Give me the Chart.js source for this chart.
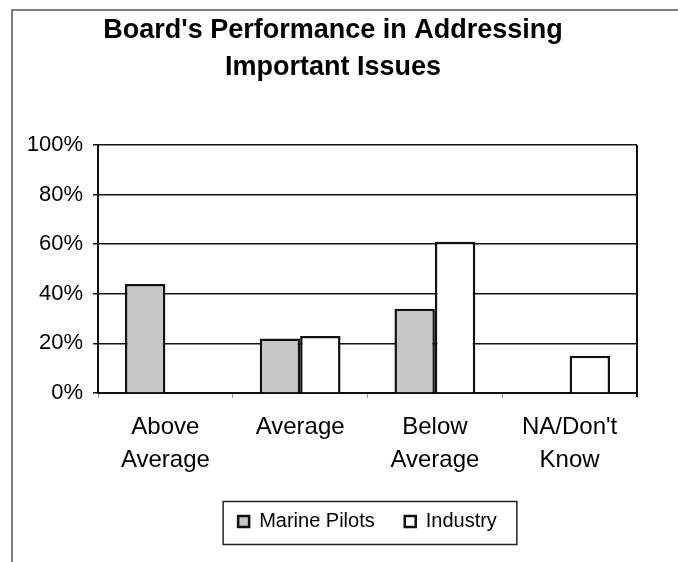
<!DOCTYPE html>
<html>
<head>
    <meta charset="utf-8">
    <script src="https://cdn.jsdelivr.net/npm/chart.js@4.4.0/dist/chart.umd.min.js"></script>
    <style>
        body { margin: 0; background: #fff; }
        #chart-container { width: 678px; height: 562px; position: relative; }
    </style>
</head>
<body>
    <div id="chart-container">
        <canvas id="boardChart" width="678" height="562"></canvas>
    </div>
    <script>
        const FONT = '"Liberation Sans", Arial, sans-serif';

        const titleLines = ["Board's Performance in Addressing", "Important Issues"];
        const categories = [["Above", "Average"], "Average", ["Below", "Average"], ["NA/Don't", "Know"]];
        const seriesNames = ["Marine Pilots", "Industry"];
        const marinePilots = [44, 22, 34, 0];
        const industry = [0, 23, 61, 15];
        const yTicks = [0, 20, 40, 60, 80, 100];

        // title, outer frame, right edge of plot and the box round the legend
        const decorations = {
            id: 'decorations',
            afterDraw: function (chart) {
                const ctx = chart.ctx;
                const area = chart.chartArea;
                ctx.save();

                // page frame (top + left only, like the scan)
                ctx.strokeStyle = '#555';
                ctx.lineWidth = 1.5;
                ctx.beginPath();
                ctx.moveTo(12, 562);
                ctx.lineTo(12, 10);
                ctx.lineTo(678, 10);
                ctx.stroke();

                // right side of plot area
                ctx.strokeStyle = '#111';
                ctx.lineWidth = 2;
                ctx.beginPath();
                ctx.moveTo(area.right, area.top);
                ctx.lineTo(area.right, area.bottom + 4);
                ctx.stroke();

                // title
                ctx.fillStyle = '#000';
                ctx.font = 'bold 27px ' + FONT;
                ctx.textAlign = 'center';
                ctx.textBaseline = 'middle';
                ctx.fillText(titleLines[0], 333, 31);
                ctx.fillText(titleLines[1], 333, 68);

                // legend frame
                const hb = chart.legend.legendHitBoxes;
                if (hb && hb.length) {
                    let l = Infinity, r = -Infinity, t = Infinity, b = -Infinity;
                    hb.forEach(function (h) {
                        l = Math.min(l, h.left);
                        r = Math.max(r, h.left + h.width);
                        t = Math.min(t, h.top);
                        b = Math.max(b, h.top + h.height);
                    });
                    ctx.strokeStyle = '#222';
                    ctx.lineWidth = 1.5;
                    ctx.strokeRect(l - 15, t - 10, (r - l) + 35, (b - t) + 23);
                }
                ctx.restore();
            }
        };

        const ctx = document.getElementById('boardChart').getContext('2d');
        const boardChart = new Chart(ctx, {
            type: 'bar',
            data: {
                labels: categories,
                datasets: [
                    {
                        label: seriesNames[0],
                        data: marinePilots,
                        backgroundColor: '#c6c6c6',
                        borderColor: '#111',
                        borderWidth: 2.5,
                        borderSkipped: 'start',
                        categoryPercentage: 0.6,
                        barPercentage: 1.0
                    },
                    {
                        label: seriesNames[1],
                        data: industry,
                        backgroundColor: '#ffffff',
                        borderColor: '#111',
                        borderWidth: 2.5,
                        borderSkipped: 'start',
                        categoryPercentage: 0.6,
                        barPercentage: 1.0
                    }
                ]
            },
            options: {
                responsive: false,
                animation: false,
                layout: {
                    padding: { top: 145, left: 0, right: 41, bottom: 20.5 }
                },
                scales: {
                    x: {
                        grid: {
                            drawOnChartArea: false,
                            drawTicks: true,
                            tickLength: 5,
                            tickColor: '#999',
                            offset: true
                        },
                        border: { color: '#111', width: 2 },
                        ticks: {
                            color: '#000',
                            padding: 13,
                            maxRotation: 0,
                            autoSkip: false,
                            font: { family: FONT, size: 24, lineHeight: 1.375 }
                        },
                        afterFit: function (scale) { scale.height = 88.5; }
                    },
                    y: {
                        min: yTicks[0],
                        max: yTicks[yTicks.length - 1],
                        afterBuildTicks: function (scale) {
                            scale.ticks = yTicks.map(function (v) { return { value: v }; });
                        },
                        grid: {
                            color: '#111',
                            lineWidth: 1.5,
                            tickLength: 5,
                            tickColor: '#111'
                        },
                        border: { color: '#111', width: 2 },
                        ticks: {
                            color: '#000',
                            padding: 10,
                            font: { family: FONT, size: 22 },
                            callback: function (v) { return v + '%'; }
                        },
                        afterFit: function (scale) { scale.width = 98; }
                    }
                },
                plugins: {
                    title: { display: false },
                    tooltip: { enabled: false },
                    legend: {
                        display: true,
                        position: 'bottom',
                        fullSize: false,
                        labels: {
                            color: '#000',
                            boxWidth: 11,
                            boxHeight: 11,
                            padding: 30,
                            font: { family: FONT, size: 20 }
                        }
                    }
                }
            },
            plugins: [decorations]
        });
    </script>
</body>
</html>
